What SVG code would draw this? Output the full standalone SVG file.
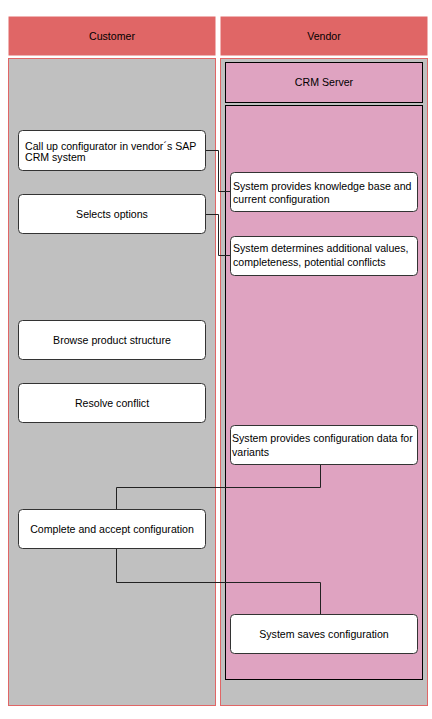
<svg xmlns="http://www.w3.org/2000/svg" width="432" height="719" viewBox="0 0 432 719">
<style>
text{font-family:"Liberation Sans",Arial,sans-serif;font-size:10.6px;fill:#000}
.hdr{fill:#E06666;stroke:#fff;stroke-width:1}
.lane{fill:#C0C0C0;stroke:#E06666;stroke-width:1}
.pool{fill:#DFA3C1;stroke:#000;stroke-width:1}
.node{fill:#fff;stroke:#333;stroke-width:1}
.c{text-anchor:middle}
.conn{fill:none;stroke:#222;stroke-width:1}
</style>
<rect width="432" height="719" fill="#fff"/>
<g id="lane-customer">
<rect class="hdr" x="8" y="16" width="208" height="40"/>
<text class="c" x="112" y="40">Customer</text>
<rect class="lane" x="8.5" y="58.5" width="207" height="647"/>
</g>
<g id="lane-vendor">
<rect class="hdr" x="220" y="16" width="208" height="40"/>
<text class="c" x="324" y="40">Vendor</text>
<rect class="lane" x="220.5" y="58.5" width="207" height="647"/>
</g>
<g id="crm-server">
<rect class="pool" x="225.5" y="62.5" width="197" height="40"/>
<text class="c" x="324" y="86">CRM Server</text>
<rect class="pool" x="225.5" y="105.5" width="197" height="574"/>
</g>
<g id="connectors">
<polyline class="conn" points="206,150.5 218.5,150.5 218.5,191.5 230,191.5"/>
<polyline class="conn" points="206,214.5 218.5,214.5 218.5,255.5 230,255.5"/>
<polyline class="conn" points="320.5,465 320.5,487.5 116.5,487.5 116.5,509"/>
<polyline class="conn" points="116.5,549 116.5,582.5 320.5,582.5 320.5,614"/>
</g>
<g id="n-callup">
<rect class="node" x="18.5" y="130.5" width="187" height="40" rx="4"/>
<text x="25" y="149.5">Call up configurator in vendor´s SAP</text>
<text x="25" y="160.5">CRM system</text>
</g>
<g id="n-selects">
<rect class="node" x="18.5" y="194.5" width="187" height="39" rx="4"/>
<text class="c" x="112" y="217.5">Selects options</text>
</g>
<g id="n-browse">
<rect class="node" x="18.5" y="320.5" width="187" height="39" rx="4"/>
<text class="c" x="112" y="343.5">Browse product structure</text>
</g>
<g id="n-resolve">
<rect class="node" x="18.5" y="383.5" width="187" height="39" rx="4"/>
<text class="c" x="112" y="406.5">Resolve conflict</text>
</g>
<g id="n-complete">
<rect class="node" x="18.5" y="509.5" width="187" height="39" rx="4"/>
<text class="c" x="112" y="533">Complete and accept configuration</text>
</g>
<g id="n-knowledge">
<rect class="node" x="230.5" y="172.5" width="187" height="39" rx="4"/>
<text x="233" y="189.5">System provides knowledge base and</text>
<text x="233" y="203">current configuration</text>
</g>
<g id="n-determines">
<rect class="node" x="230.5" y="236.5" width="187" height="39" rx="4"/>
<text x="233" y="251.5">System determines additional values,</text>
<text x="233" y="265.5">completeness, potential conflicts</text>
</g>
<g id="n-configdata">
<rect class="node" x="230.5" y="425.5" width="187" height="39" rx="4"/>
<text x="232" y="441.5">System provides configuration data for</text>
<text x="232" y="455.5">variants</text>
</g>
<g id="n-saves">
<rect class="node" x="230.5" y="614.5" width="187" height="39" rx="4"/>
<text class="c" x="324" y="638">System saves configuration</text>
</g>
</svg>
